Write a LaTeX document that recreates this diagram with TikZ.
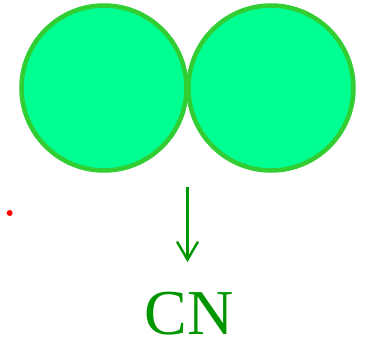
\documentclass[tikz,border=0pt]{standalone}
\usepackage{fontspec}
\setmainfont{Liberation Serif}
\usetikzlibrary{arrows.meta,positioning}
\definecolor{atomfill}{RGB}{0,255,144}
\definecolor{atomline}{RGB}{50,205,50}
\definecolor{cngreen}{RGB}{0,150,0}
\begin{document}
\begin{tikzpicture}[x=1pt,y=-1pt,
  atom/.style={circle,draw=atomline,fill=atomfill,line width=4.5pt,minimum size=165pt,inner sep=0pt}]
\useasboundingbox (0,0) rectangle (366,339);
\node[atom] (c) at (104,88) {};
\node[atom] (n) at (271,88) {};
\fill[red] (9.7,213) circle (3pt);
\coordinate (a0) at (187.5,187);
\coordinate (a1) at (187.5,262);
\draw[cngreen,line width=2.4pt,-{Straight Barb[length=18pt,width=21pt,line width=2.4pt]}] (a0)--(a1);
\node[text=cngreen,font=\fontsize{64}{64}\selectfont,inner sep=0pt,anchor=base] (cn) at (189,334) {CN};
\end{tikzpicture}
\end{document}
